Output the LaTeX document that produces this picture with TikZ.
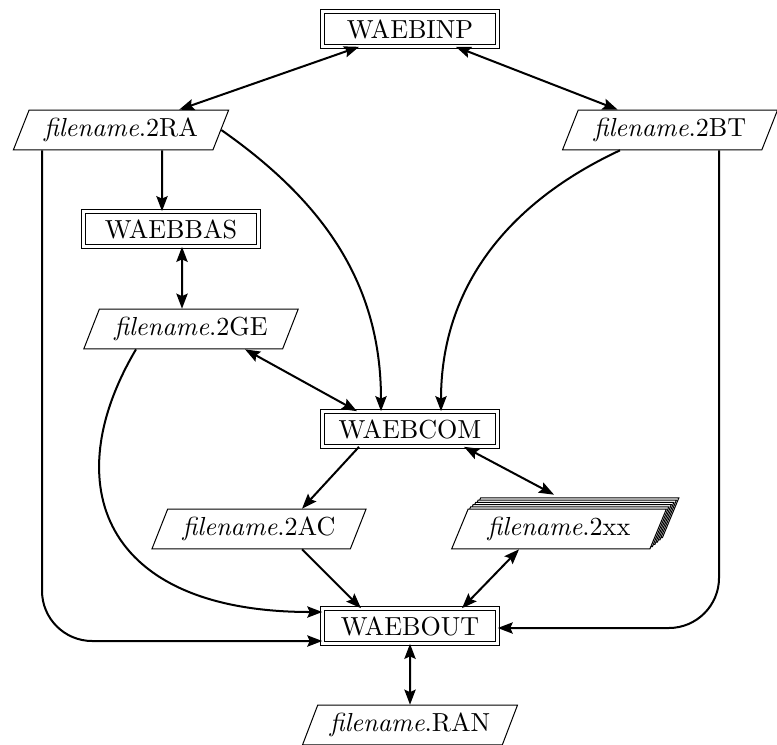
\documentclass[tikz,border=0pt]{standalone}
\usepackage{fontspec}
\usepackage{amsmath}
\usepackage{tikz}
\usetikzlibrary{arrows.meta,shapes.geometric,shadows,positioning}

\tikzset{
    prog/.style = {draw, thin, double, double distance=1.3pt, minimum width=69.5pt,
                   minimum height=13.8pt, inner sep=1pt},
    file/.style = {draw, thin, trapezium, trapezium left angle=63, trapezium right angle=117,
                   trapezium stretches=true, minimum width=86pt, minimum height=15.8pt,
                   inner xsep=4pt, inner ysep=1pt, fill=white},
    stack/.style = {file,
                    copy shadow={shadow xshift=5pt, shadow yshift=4.5pt, draw, thin, fill=white},
                    copy shadow={shadow xshift=4pt, shadow yshift=3.6pt, draw, thin, fill=white},
                    copy shadow={shadow xshift=3pt, shadow yshift=2.7pt, draw, thin, fill=white},
                    copy shadow={shadow xshift=2pt, shadow yshift=1.8pt, draw, thin, fill=white},
                    copy shadow={shadow xshift=1pt, shadow yshift=0.9pt, draw, thin, fill=white}},
    flow/.style = {thick, >={Stealth[length=6pt,width=4.5pt,inset=1pt]}}
}
\newcommand{\fname}[1]{\textit{filename}.#1}

\begin{document}
\begin{tikzpicture}[x=0.014cm, y=-0.014cm, flow, font=\fontsize{10.4}{12}\selectfont]
    \useasboundingbox (0,0) rectangle (777,744);
    % programs
    \node [prog] (inp) at (410,29) {WAEBINP};
    \node [prog] (bas) at (171,229) {WAEBBAS};
    \node [prog] (com) at (410,429) {WAEBCOM};
    \node [prog] (out) at (410,626) {WAEBOUT};
    % files
    \node [file] (ra) at (121,130) {\fname{2RA}};
    \node [file] (bt) at (670,130) {\fname{2BT}};
    \node [file] (ge) at (191,329) {\fname{2GE}};
    \node [file] (ac) at (259,529) {\fname{2AC}};
    \node [stack] (xx) at (559,529) {\fname{2xx}};
    \node [file] (ran) at (410,725) {\fname{RAN}};
    % connections
    \draw [<->] (inp) -- (ra);
    \draw [<->] (inp) -- (bt);
    \draw [->] ([shift={(41,0)}]ra.south) -- ([shift={(-9,0)}]bas.north);
    \draw [->] (ra.east) to [out=-35, in=90] ([shift={(-29,0)}]com.north);
    \draw [->] ([shift={(-50,0)}]bt.south) to [out=-155, in=90] ([shift={(31,0)}]com.north);
    \draw [<->] ([shift={(11,0)}]bas.south) -- ([shift={(-9,0)}]ge.north);
    \draw [<->] ([shift={(54,0)}]ge.south) -- ([shift={(-53,0)}]com.north);
    \draw [->] ([shift={(-55,0)}]ge.south) .. controls +(-80,135) and +(-220,0) .. ([shift={(0,-14)}]out.west);
    \draw [->, rounded corners=20pt] ([shift={(-79,0)}]ra.south) |- ([shift={(0,15)}]out.west);
    \draw [->, rounded corners=20pt] ([shift={(49,0)}]bt.south) |- ([shift={(0,2)}]out.east);
    \draw [->] ([shift={(-51,0)}]com.south) -- ([shift={(43,0)}]ac.north);
    \draw [<->] ([shift={(54,0)}]com.south) -- ([shift={(-5,-14)}]xx.north);
    \draw [->] ([shift={(43,0)}]ac.south) -- ([shift={(-49,0)}]out.north);
    \draw [<->] ([shift={(-40,0)}]xx.south) -- ([shift={(52,0)}]out.north);
    \draw [<->] (out.south) -- (ran.north);
\end{tikzpicture}
\end{document}
